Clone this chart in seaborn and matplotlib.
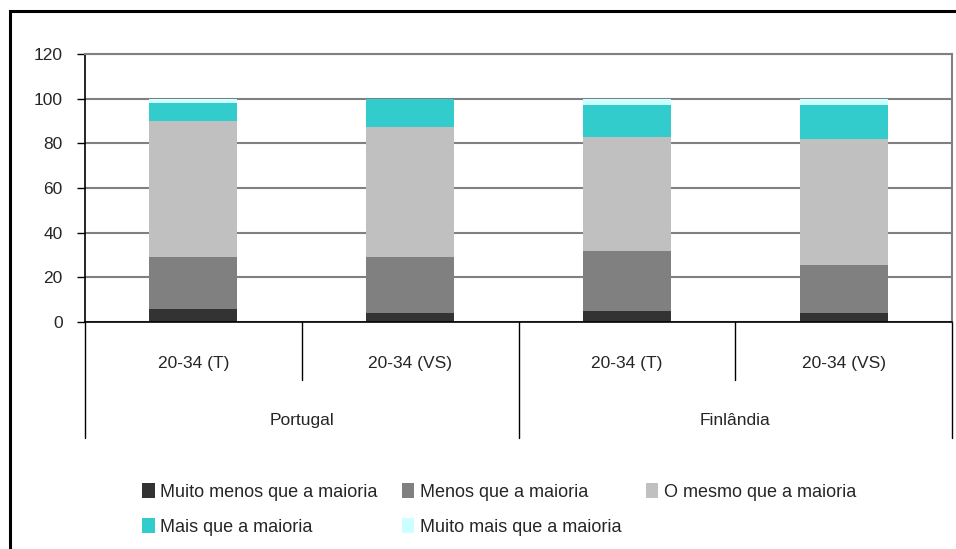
import numpy as np
import pandas as pd
import matplotlib.pyplot as plt
import seaborn as sns
from matplotlib.patches import Patch, Rectangle
from matplotlib.transforms import blended_transform_factory

# Dados (percentagens empilhadas)
paises = ["Portugal", "Portugal", "Finlândia", "Finlândia"]
rotulos = ["20-34 (T)", "20-34 (VS)", "20-34 (T)", "20-34 (VS)"]
categorias = ["Muito menos que a maioria", "Menos que a maioria",
              "O mesmo que a maioria", "Mais que a maioria",
              "Muito mais que a maioria"]
muito_menos = [6.0, 4.2, 5.1, 4.2]
menos = [23.3, 25.1, 26.8, 21.5]
mesmo = [60.9, 58.2, 51.1, 56.4]
mais = [8.0, 12.5, 14.3, 15.2]
muito_mais = [1.8, 0.0, 2.7, 2.7]

CORES = ["#333333", "#808080", "#C0C0C0", "#33CCCC", "#CCFFFF"]

sns.set_style("white")
plt.rcParams['font.family'] = ['Liberation Sans', 'DejaVu Sans']
plt.rcParams['font.size'] = 12.5

df = pd.DataFrame({
    'chave': [p + " " + r for p, r in zip(paises, rotulos)],
    'pais': paises,
    'rotulo': rotulos,
})
series = [muito_menos, menos, mesmo, mais, muito_mais]
acumulado = np.cumsum(np.array(series), axis=0)
for i in range(len(series)):
    df[f'cum{i}'] = acumulado[i]

fig = plt.figure(figsize=(9.56, 5.49), dpi=100)
ax = fig.add_axes([85 / 956, 1 - 322 / 549, (952 - 85) / 956, 268 / 549])

# Barras empilhadas: desenha do topo para a base
for i in reversed(range(len(series))):
    sns.barplot(data=df, x='chave', y=f'cum{i}', color=CORES[i], saturation=1,
                width=0.405, errorbar=None, linewidth=0, ax=ax)

ax.set_ylim(0, 120)
ax.set_xlim(-0.5, 3.5)
ax.set_yticks(range(0, 121, 20))
ax.set_xlabel("")
ax.set_ylabel("")
ax.set_axisbelow(True)
ax.yaxis.grid(True, color="#808080", linewidth=1.5)
ax.tick_params(axis='y', length=6, width=1, color='black', pad=10, labelsize=12.5, left=True)
ax.set_xticks(range(4))
ax.set_xticklabels(rotulos)
ax.tick_params(axis='x', length=0, pad=24.5, labelsize=12.5)

for lado in ['top', 'right']:
    ax.spines[lado].set_color("#808080")
    ax.spines[lado].set_linewidth(1.5)
for lado in ['left', 'bottom']:
    ax.spines[lado].set_color("black")
    ax.spines[lado].set_linewidth(1.2)

# Separadores das categorias e paises abaixo do eixo
trans = blended_transform_factory(ax.transData, ax.transAxes)
for xs, fundo in [(-0.5, -0.433), (0.5, -0.216), (1.5, -0.433), (2.5, -0.216), (3.5, -0.433)]:
    ax.plot([xs, xs], [0, fundo], color='black', lw=1, transform=trans, clip_on=False)
for xc, nome in [(0.5, "Portugal"), (2.5, "Finlândia")]:
    ax.text(xc, -0.366, nome, transform=trans, ha='center', va='center', fontsize=12.5)

# Legenda
alcas = [Patch(facecolor=c, edgecolor='none') for c in CORES]
ordem = [0, 3, 1, 4, 2]
fig.legend([alcas[k] for k in ordem], [categorias[k] for k in ordem],
           ncol=3, loc='upper left', bbox_to_anchor=(133 / 956, 1 - 474 / 549),
           frameon=False, fontsize=13, handlelength=0.7, handleheight=0.9,
           handletextpad=0.3, columnspacing=1.35, labelspacing=0.95, borderpad=0)

# Moldura exterior
fig.patches.append(Rectangle((10 / 956, -0.1), 1.2, 1 - 11 / 549 + 0.1,
                             transform=fig.transFigure, fill=False,
                             edgecolor='black', linewidth=2.2))

plt.savefig('out.png', dpi=100)
